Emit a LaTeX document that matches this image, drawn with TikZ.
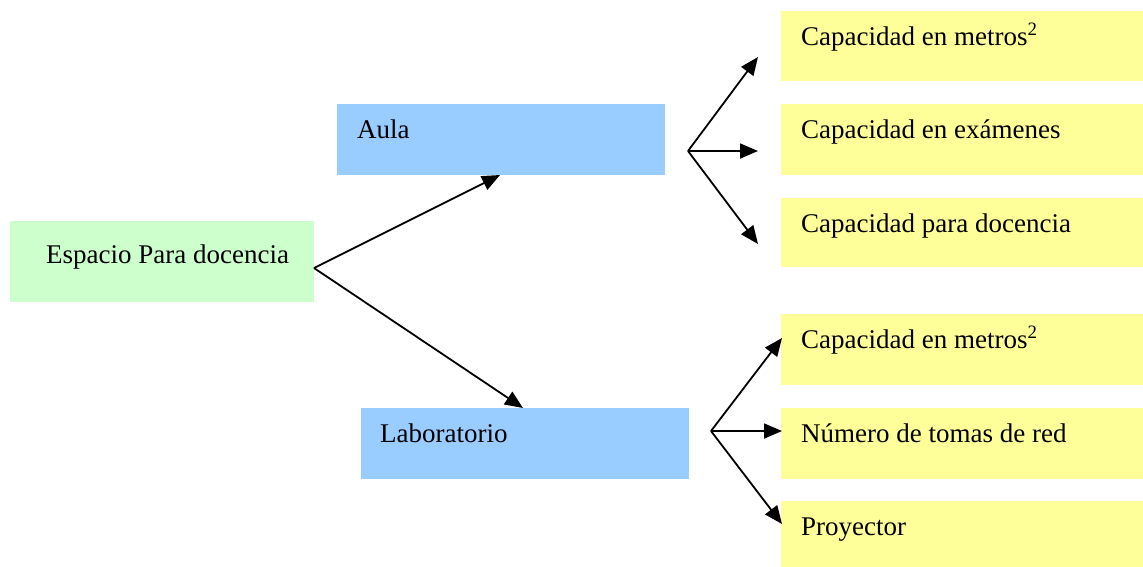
\documentclass[tikz,border=0pt]{standalone}
\usepackage{fontspec}
\setmainfont{Liberation Serif}
\usetikzlibrary{arrows.meta,calc}
\definecolor{boxgreen}{HTML}{CCFFCC}
\definecolor{boxblue}{HTML}{99CCFF}
\definecolor{boxyellow}{HTML}{FFFF99}
\begin{document}
\begin{tikzpicture}[x=1pt,y=-1pt,
  box/.style={draw=none,inner sep=0pt,anchor=north west},
  lbl/.style={anchor=base west,inner sep=0pt,font=\fontsize{27}{32}\selectfont},
  arr/.style={line width=1.8pt,-{Triangle[length=18pt,width=15pt]}}]
\useasboundingbox (0,0) rectangle (1143,566);
% boxes
\node[box,fill=boxgreen,minimum width=304pt,minimum height=81pt] (esp) at (10,221) {};
\node[box,fill=boxblue,minimum width=328pt,minimum height=71pt] (aula) at (337,104) {};
\node[box,fill=boxblue,minimum width=328pt,minimum height=71pt] (lab) at (361,408) {};
\node[box,fill=boxyellow,minimum width=362pt,minimum height=70pt] (y1) at (781,11) {};
\node[box,fill=boxyellow,minimum width=362pt,minimum height=71pt] (y2) at (781,104) {};
\node[box,fill=boxyellow,minimum width=362pt,minimum height=69pt] (y3) at (781,198) {};
\node[box,fill=boxyellow,minimum width=362pt,minimum height=71pt] (y4) at (781,314) {};
\node[box,fill=boxyellow,minimum width=362pt,minimum height=71pt] (y5) at (781,408) {};
\node[box,fill=boxyellow,minimum width=362pt,minimum height=66pt] (y6) at (781,501) {};
% labels
\node[lbl] (tesp) at (46,263) {Espacio Para docencia};
\node[lbl] (taula) at (357,138) {Aula};
\node[lbl] (tlab) at (380,442) {Laboratorio};
\node[lbl] (t1) at (801,45) {Capacidad en metros\textsuperscript{2}};
\node[lbl] (t2) at (801,138) {Capacidad en exámenes};
\node[lbl] (t3) at (801,232) {Capacidad para docencia};
\node[lbl] (t4) at (801,348) {Capacidad en metros\textsuperscript{2}};
\node[lbl] (t5) at (801,442) {Número de tomas de red};
\node[lbl] (t6) at (801,535) {Proyector};
% connector points
\coordinate (src) at (314,268);
\coordinate (aulatip) at (500,175);
\coordinate (labtip) at (523,408);
\coordinate (fa) at (688,151);
\coordinate (fa1) at (758,57);
\coordinate (fa2) at (758,151);
\coordinate (fa3) at (758,244);
\coordinate (fl) at (711,431);
\coordinate (fl1) at (782,338);
\coordinate (fl2) at (782,431);
\coordinate (fl3) at (782,524);
% arrows
\draw[arr] (src) -- (aulatip);
\draw[arr] (src) -- (labtip);
\draw[arr] (fa) -- (fa1);
\draw[arr] (fa) -- (fa2);
\draw[arr] (fa) -- (fa3);
\draw[arr] (fl) -- (fl1);
\draw[arr] (fl) -- (fl2);
\draw[arr] (fl) -- (fl3);
\end{tikzpicture}
\end{document}
